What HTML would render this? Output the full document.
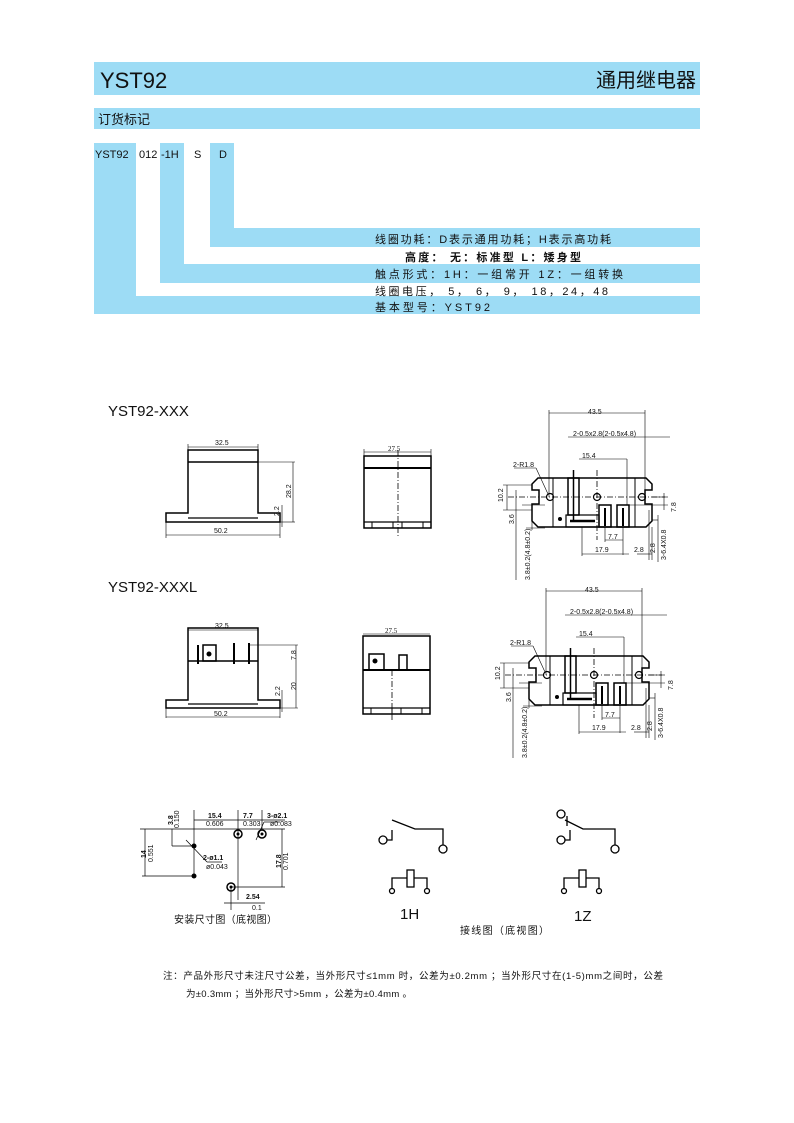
<!DOCTYPE html>
<html><head><meta charset="utf-8"><style>
body{margin:0;background:#fff;}
svg{display:block;}
text{font-family:"Liberation Sans","Noto Sans CJK SC",sans-serif;fill:#111;}
.s{font-family:"Liberation Serif","Noto Serif CJK SC",serif;font-size:7px;}
</style></head><body>
<svg width="794" height="1123" viewBox="0 0 794 1123" xmlns="http://www.w3.org/2000/svg">
<defs>
<g id="bv" fill="none" stroke="#000">
 <path d="M538 478 H646 L652 484 V490 H645 V504 H652 V521 L646 527 H538 L532 521 V504 H539 V490 H532 V484 Z" stroke-width="1.5"/>
 <line x1="553" y1="478" x2="553" y2="527" stroke-width="1"/>
 <line x1="635" y1="478" x2="635" y2="527" stroke-width="1"/>
 <line x1="508" y1="497" x2="665" y2="497" stroke-width="0.8" stroke-dasharray="6,2,1,2"/>
 <line x1="597" y1="470" x2="597" y2="540" stroke-width="0.8" stroke-dasharray="6,2,1,2"/>
 <circle cx="550" cy="497" r="3.5" stroke-width="1.2"/>
 <circle cx="597" cy="497" r="3.5" stroke-width="1.2"/>
 <circle cx="642" cy="497" r="3.5" stroke-width="1.2"/>
 <rect x="568" y="478" width="11" height="37" stroke-width="1.5"/>
 <line x1="573.5" y1="470" x2="573.5" y2="520" stroke-width="1.5"/>
 <rect x="599" y="505" width="12" height="22" stroke-width="1.5"/>
 <rect x="617" y="505" width="12" height="22" stroke-width="1.5"/>
 <line x1="605" y1="508" x2="605" y2="526" stroke-width="2"/>
 <line x1="623" y1="508" x2="623" y2="526" stroke-width="2"/>
 <rect x="566" y="515" width="33" height="12" stroke-width="1.2"/>
 <line x1="570" y1="521" x2="595" y2="521" stroke-width="2.5"/>
 <circle cx="560" cy="519" r="1.5" fill="#000"/>
 <g stroke-width="0.6">
  <line x1="549" y1="410" x2="549" y2="497"/><line x1="645" y1="410" x2="645" y2="497"/>
  <line x1="549" y1="413" x2="645" y2="413"/>
  <line x1="568" y1="437" x2="670" y2="437"/>
  <line x1="579" y1="459" x2="627" y2="459"/><line x1="627" y1="459" x2="627" y2="505"/>
  <line x1="514" y1="468" x2="536" y2="468"/><line x1="536" y1="468" x2="548" y2="494"/>
  <line x1="503" y1="485" x2="532" y2="485"/><line x1="503" y1="510" x2="532" y2="510"/>
  <line x1="507" y1="485" x2="507" y2="510"/>
  <line x1="516" y1="490" x2="516" y2="580"/>
  <line x1="522" y1="505" x2="545" y2="505"/><line x1="526" y1="528" x2="545" y2="528"/>
  <line x1="532" y1="512" x2="532" y2="530"/>
  <line x1="629" y1="505" x2="668" y2="505"/><line x1="652" y1="497" x2="668" y2="497"/>
  <line x1="664" y1="493" x2="664" y2="510"/>
  <line x1="652" y1="520" x2="658" y2="520"/><line x1="658" y1="515" x2="658" y2="562"/>
  <line x1="605" y1="527" x2="605" y2="542"/><line x1="623" y1="527" x2="623" y2="555"/>
  <line x1="605" y1="540" x2="623" y2="540"/>
  <line x1="582" y1="527" x2="582" y2="556"/><line x1="582" y1="554" x2="629" y2="554"/>
  <line x1="637" y1="554" x2="652" y2="554"/><line x1="652" y1="527" x2="652" y2="560"/>
  <line x1="649" y1="510" x2="649" y2="560"/>
 </g>
 <g class="s" stroke="none" fill="#111">
  <text x="588" y="414">43.5</text>
  <text x="573" y="436">2-0.5x2.8(2-0.5x4.8)</text>
  <text x="582" y="458">15.4</text>
  <text x="513" y="467">2-R1.8</text>
  <text x="608" y="539">7.7</text>
  <text x="595" y="552">17.9</text>
  <text x="634" y="552">2.8</text>
  <text transform="translate(503,502) rotate(-90)">10.2</text>
  <text transform="translate(514,524) rotate(-90)">3.6</text>
  <text transform="translate(530,580) rotate(-90)">3.8±0.2(4.8±0.2)</text>
  <text transform="translate(676,512) rotate(-90)">7.8</text>
  <text transform="translate(655,553) rotate(-90)">2.8</text>
  <text transform="translate(666,560) rotate(-90)">3-6.4X0.8</text>
 </g>
</g>
</defs>

<rect x="94" y="62" width="606" height="33" fill="#9ddcf5"/>
<text x="100" y="88" font-size="22">YST92</text>
<text x="696" y="87" font-size="20" text-anchor="end">通用继电器</text>
<rect x="94" y="108" width="606" height="21" fill="#9ddcf5"/>
<text x="98" y="124" font-size="13">订货标记</text>

<g fill="#9ddcf5">
<rect x="94" y="143" width="42" height="171"/>
<rect x="94" y="296" width="606" height="18"/>
<rect x="160" y="143" width="24" height="140"/>
<rect x="160" y="264" width="540" height="19"/>
<rect x="210" y="143" width="24" height="104"/>
<rect x="210" y="228" width="490" height="19"/>
</g>
<g font-size="11">
<text x="95" y="158">YST92</text>
<text x="139" y="158">012</text>
<text x="161" y="158">-1H</text>
<text x="194" y="158">S</text>
<text x="219" y="158">D</text>
<text x="375" y="243" textLength="236" lengthAdjust="spacing">线圈功耗：D表示通用功耗；H表示高功耗</text>
<text x="405" y="261" font-weight="bold" textLength="176" lengthAdjust="spacing">高度：  无：标准型 L：矮身型</text>
<text x="375" y="278" textLength="248" lengthAdjust="spacing">触点形式：1H：一组常开    1Z：一组转换</text>
<text x="375" y="295" textLength="233" lengthAdjust="spacing">线圈电压， 5，   6，  9，  18，24，48</text>
<text x="375" y="311" textLength="115" lengthAdjust="spacing">基本型号：YST92</text>
</g>

<text x="108" y="416" font-size="15">YST92-XXX</text>
<g fill="none" stroke="#000">
 <path d="M188 450 V513 H166 V522 H280 V513 H258 V450 Z" stroke-width="1.5"/>
 <line x1="188" y1="462" x2="258" y2="462" stroke-width="1.5"/>
 <line x1="188" y1="518" x2="258" y2="518" stroke-width="1.2"/>
 <g stroke-width="0.6">
  <line x1="188" y1="444" x2="188" y2="450"/><line x1="258" y1="444" x2="258" y2="450"/>
  <line x1="188" y1="447" x2="258" y2="447"/>
  <line x1="166" y1="522" x2="166" y2="538"/><line x1="280" y1="522" x2="280" y2="538"/>
  <line x1="166" y1="535" x2="280" y2="535"/>
  <line x1="258" y1="462" x2="295" y2="462"/><line x1="280" y1="522" x2="295" y2="522"/>
  <line x1="293" y1="462" x2="293" y2="522"/>
  <line x1="282" y1="505" x2="282" y2="527"/>
 </g>
</g>
<g class="s"><text x="215" y="445">32.5</text><text x="214" y="533">50.2</text>
<text transform="translate(291,498) rotate(-90)">28.2</text><text transform="translate(279,516) rotate(-90)">2.2</text></g>
<g fill="none" stroke="#000">
 <rect x="364" y="456" width="67" height="72" stroke-width="1.5"/>
 <line x1="364" y1="468" x2="431" y2="468" stroke-width="2"/>
 <line x1="364" y1="522" x2="431" y2="522" stroke-width="1.2"/>
 <line x1="372" y1="522" x2="372" y2="528"/><line x1="393" y1="522" x2="393" y2="528"/><line x1="402" y1="522" x2="402" y2="528"/><line x1="423" y1="522" x2="423" y2="528"/>
 <line x1="398" y1="450" x2="398" y2="536" stroke-width="0.8" stroke-dasharray="6,2,1,2"/>
 <g stroke-width="0.6"><line x1="364" y1="452" x2="431" y2="452"/><line x1="364" y1="449" x2="364" y2="456"/><line x1="431" y1="449" x2="431" y2="456"/></g>
</g>
<text class="s" x="388" y="451">27.5</text>
<use href="#bv"/>

<text x="108" y="592" font-size="15">YST92-XXXL</text>
<g fill="none" stroke="#000">
 <path d="M188 628 V700 H166 V708 H280 V700 H258 V628 Z" stroke-width="1.5"/>
 <line x1="188" y1="661" x2="258" y2="661" stroke-width="1.5"/>
 <line x1="188" y1="704" x2="258" y2="704" stroke-width="1.2"/>
 <rect x="203" y="645" width="13" height="16" stroke-width="1.5"/>
 <circle cx="209" cy="654" r="2" fill="#000"/>
 <line x1="198" y1="645" x2="198" y2="664" stroke-width="2"/>
 <line x1="234" y1="643" x2="234" y2="664" stroke-width="2"/>
 <line x1="249" y1="643" x2="249" y2="664" stroke-width="2"/>
 <g stroke-width="0.6">
  <line x1="188" y1="630" x2="258" y2="630"/>
  <line x1="166" y1="708" x2="166" y2="718"/><line x1="280" y1="708" x2="280" y2="718"/>
  <line x1="166" y1="717" x2="280" y2="717"/>
  <line x1="249" y1="645" x2="298" y2="645"/><line x1="280" y1="708" x2="298" y2="708"/>
  <line x1="296" y1="645" x2="296" y2="708"/>
  <line x1="282" y1="690" x2="282" y2="712"/>
 </g>
</g>
<g class="s"><text x="215" y="628">32.5</text><text x="214" y="716">50.2</text>
<text transform="translate(296,660) rotate(-90)">7.8</text><text transform="translate(296,690) rotate(-90)">20</text><text transform="translate(280,696) rotate(-90)">2.2</text></g>
<g fill="none" stroke="#000">
 <rect x="363" y="636" width="67" height="78" stroke-width="1.5"/>
 <line x1="363" y1="670" x2="430" y2="670" stroke-width="2"/>
 <line x1="363" y1="708" x2="430" y2="708" stroke-width="1.2"/>
 <rect x="369" y="654" width="15" height="16" stroke-width="1.5"/>
 <circle cx="375" cy="661" r="2" fill="#000"/>
 <rect x="399" y="655" width="8" height="15" stroke-width="1.5"/>
 <line x1="371" y1="708" x2="371" y2="714"/><line x1="392" y1="708" x2="392" y2="714"/><line x1="401" y1="708" x2="401" y2="714"/><line x1="422" y1="708" x2="422" y2="714"/>
 <line x1="392" y1="670" x2="392" y2="720" stroke-width="0.8" stroke-dasharray="6,2,1,2"/>
 <line x1="363" y1="634" x2="430" y2="634" stroke-width="0.6"/>
</g>
<text class="s" x="385" y="633">27.5</text>
<use href="#bv" transform="translate(-3,178)"/>

<g fill="none" stroke="#000">
 <g stroke-width="0.7">
  <line x1="140" y1="829" x2="285" y2="829"/>
  <line x1="142" y1="876" x2="195" y2="876"/>
  <line x1="145" y1="829" x2="145" y2="876"/>
  <line x1="172" y1="846" x2="195" y2="846"/>
  <line x1="194" y1="810" x2="194" y2="876"/>
  <line x1="238" y1="810" x2="238" y2="900"/>
  <line x1="262" y1="810" x2="262" y2="829"/>
  <line x1="194" y1="820" x2="285" y2="820"/>
  <line x1="232" y1="887" x2="285" y2="887"/>
  <line x1="282" y1="829" x2="282" y2="887"/>
  <line x1="231" y1="887" x2="231" y2="910"/>
  <line x1="224" y1="903" x2="265" y2="903"/>
  <line x1="186" y1="840" x2="207" y2="862"/>
  <line x1="207" y1="862" x2="222" y2="862"/>
  <line x1="256" y1="840" x2="264" y2="822"/><line x1="264" y1="822" x2="280" y2="822"/>
  <line x1="172" y1="829" x2="172" y2="846"/>
 </g>
 <circle cx="238" cy="834" r="4" stroke-width="1.5"/>
 <circle cx="262" cy="834" r="4" stroke-width="1.5"/>
 <circle cx="231" cy="887" r="4" stroke-width="1.5"/>
</g>
<g fill="#000"><circle cx="194" cy="846" r="2.5"/><circle cx="194" cy="876" r="2.5"/><circle cx="238" cy="834" r="1.5"/><circle cx="262" cy="834" r="1.5"/><circle cx="231" cy="887" r="1.5"/></g>
<g font-size="7" font-weight="bold"><text x="208" y="818">15.4</text><text x="243" y="818">7.7</text><text x="267" y="818">3-ø2.1</text>
<text x="203" y="860">2-ø1.1</text><text x="246" y="899">2.54</text>
<text transform="translate(173,825) rotate(-90)">3.8</text><text transform="translate(146,858) rotate(-90)">14</text><text transform="translate(281,868) rotate(-90)">17.8</text></g>
<g class="s" font-size="5"><text x="206" y="826">0.606</text><text x="243" y="826">0.303</text><text x="270" y="826">ø0.083</text><text x="206" y="869">ø0.043</text><text x="252" y="910">0.1</text>
<text transform="translate(179,828) rotate(-90)">0.150</text><text transform="translate(153,862) rotate(-90)">0.551</text><text transform="translate(288,870) rotate(-90)">0.701</text></g>
<text x="174" y="923" font-size="10" textLength="103" lengthAdjust="spacing">安装尺寸图（底视图）</text>

<g fill="none" stroke="#000" stroke-width="1.3">
 <circle cx="383" cy="840" r="4"/><path d="M387 840 H392 V830"/>
 <path d="M392 820 L415 829 H443 V845"/><circle cx="443" cy="849" r="4"/>
 <rect x="407" y="870" width="7" height="17"/><path d="M407 878 H392 V888 M414 878 H427 V888"/>
 <circle cx="392" cy="891" r="2.5"/><circle cx="427" cy="891" r="2.5"/>
 <circle cx="561" cy="814" r="4"/><path d="M567 816 V826"/>
 <circle cx="561" cy="840" r="4"/><path d="M565 840 H570 V830"/>
 <path d="M565 820 L583 829 H615 V845"/><circle cx="615" cy="849" r="4"/>
 <rect x="579" y="870" width="7" height="17"/><path d="M579 878 H564 V888 M586 878 H599 V888"/>
 <circle cx="564" cy="891" r="2.5"/><circle cx="599" cy="891" r="2.5"/>
</g>
<text x="400" y="919" font-size="15">1H</text>
<text x="574" y="921" font-size="15">1Z</text>
<text x="460" y="934" font-size="10" textLength="89" lengthAdjust="spacing">接线图（底视图）</text>

<g font-size="9.5">
<text x="163" y="979" textLength="500" lengthAdjust="spacing">注：产品外形尺寸未注尺寸公差，当外形尺寸≤1mm 时，公差为±0.2mm ；当外形尺寸在(1-5)mm之间时，公差</text>
<text x="186" y="997" textLength="226" lengthAdjust="spacing">为±0.3mm ；当外形尺寸&gt;5mm  ，公差为±0.4mm  。</text>
</g>
</svg>
</body></html>
